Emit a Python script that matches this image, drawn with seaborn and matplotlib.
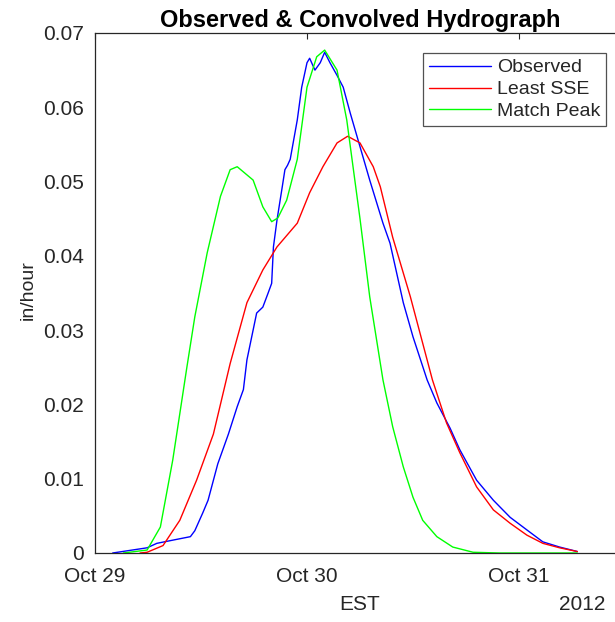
import matplotlib
matplotlib.use("Agg")
from matplotlib import pyplot as plt
import numpy as np
import pandas as pd
import seaborn as sns

# hours after Oct 29 2012 00:00 EST, values in in/hour
obs_hours = [2.0, 5.9, 7.0, 9.1, 10.8, 11.3, 12.2, 12.8, 13.9, 15.1, 16.1, 16.8,
             17.2, 18.3, 19.0, 19.6, 20.0, 20.2, 20.6, 21.2, 21.5, 21.8, 22.1,
             22.9, 23.4, 24.0, 24.3, 24.9, 25.5, 26.0, 26.6, 27.4, 28.1, 28.9,
             30.0, 31.1, 32.6, 33.4, 34.9, 36.0, 37.6, 38.7, 40.2, 41.3, 43.2,
             45.1, 47.0, 48.9, 50.7, 52.6, 54.6]
obs_vals = [0.0, 0.0007, 0.0013, 0.0018, 0.0022, 0.003, 0.0054, 0.0071, 0.012,
            0.016, 0.0197, 0.022, 0.026, 0.0323, 0.0331, 0.035, 0.0363, 0.0412,
            0.0448, 0.0493, 0.0516, 0.0522, 0.053, 0.0583, 0.0627, 0.066,
            0.0666, 0.065, 0.066, 0.0674, 0.066, 0.0643, 0.0627, 0.0592, 0.0547,
            0.0502, 0.0444, 0.0417, 0.0337, 0.0291, 0.0233, 0.0202, 0.0168,
            0.0139, 0.0098, 0.0071, 0.0048, 0.0031, 0.0015, 0.0008, 0.0002]

sse_hours = [5.1, 5.9, 7.7, 9.6, 11.5, 13.4, 15.3, 17.2, 19.0, 20.6, 22.9, 24.3,
             25.8, 27.4, 28.6, 30.0, 31.5, 32.3, 33.7, 35.7, 38.2, 39.8, 41.3,
             43.2, 45.1, 47.0, 48.9, 50.7, 52.6, 54.6]
sse_vals = [0.0, 0.0001, 0.001, 0.0044, 0.0098, 0.016, 0.0255, 0.0337, 0.0381,
            0.0412, 0.0444, 0.0485, 0.052, 0.0552, 0.0561, 0.0552, 0.052,
            0.0493, 0.0425, 0.0345, 0.0233, 0.0175, 0.0135, 0.0089, 0.0058,
            0.004, 0.0024, 0.0013, 0.0007, 0.0002]

peak_hours = [3.2, 5.9, 7.4, 8.8, 10.4, 11.3, 12.7, 14.2, 15.3, 16.1, 17.9,
              19.0, 20.0, 20.7, 21.7, 22.9, 24.0, 25.1, 26.0, 27.4, 28.5, 30.0,
              31.1, 32.6, 33.7, 34.9, 36.0, 37.1, 38.7, 40.5, 42.8, 45.8, 54.6]
peak_vals = [0.0, 0.0004, 0.0035, 0.0125, 0.025, 0.0318, 0.0404, 0.048, 0.0516,
             0.052, 0.0502, 0.0466, 0.0446, 0.0451, 0.0475, 0.053, 0.0627,
             0.0668, 0.0677, 0.065, 0.0583, 0.045, 0.0345, 0.0233, 0.017,
             0.0116, 0.0075, 0.0044, 0.0022, 0.0008, 0.0001, 0.0, 0.0]

series_names = ["Observed", "Least SSE", "Match Peak"]
series_colors = ["#0000ff", "#ff0000", "#00ff00"]
tick_dates = ["2012-10-29", "2012-10-30", "2012-10-31"]
tick_labels = ["Oct 29", "Oct 30", "Oct 31"]
y_ticks = [0, 0.01, 0.02, 0.03, 0.04, 0.05, 0.06, 0.07]

start = pd.Timestamp("2012-10-29")

sns.set_style("white")
plt.rcParams['font.family'] = ['Liberation Sans', 'DejaVu Sans']
fg = "#262626"

fig = plt.figure(figsize=(6.15, 6.22), dpi=100)
ax = fig.add_axes([95 / 615, 1 - 553 / 622, 530 / 615, 520 / 622])

for name, color, hrs, vals in zip(series_names, series_colors,
                                  [obs_hours, sse_hours, peak_hours],
                                  [obs_vals, sse_vals, peak_vals]):
    df = pd.DataFrame({
        "time": start + pd.to_timedelta(hrs, unit="h"),
        "value": vals,
    })
    sns.lineplot(data=df, x="time", y="value", color=color, linewidth=1.0,
                 label=name, estimator=None, ax=ax)

ax.set_xlim(start, start + pd.Timedelta(hours=60))
ax.set_ylim(0, 0.07)
ax.set_xticks(pd.to_datetime(tick_dates))
ax.set_xticklabels(tick_labels)
ax.set_yticks(y_ticks)
ax.set_yticklabels([f"{v:g}" for v in y_ticks])

for s in ax.spines.values():
    s.set_color(fg)
    s.set_linewidth(0.9)
ax.tick_params(direction="in", length=4, width=0.8, colors=fg,
               labelsize=15, top=True, right=False)
ax.tick_params(axis="y", pad=8)
ax.tick_params(axis="x", pad=10)

ax.set_xlabel("")
ax.set_ylabel("in/hour", fontsize=14, color=fg)
ax.yaxis.set_label_coords(-0.11, 0.506)
ax.set_title("Observed & Convolved Hydrograph", fontsize=17,
             fontweight="bold", color="black", pad=4)
fig.text(360 / 615, 1 - 605 / 622, "EST", ha="center", va="center",
         fontsize=15, color=fg)
fig.text(605 / 615, 1 - 604 / 622, "2012", ha="right", va="center",
         fontsize=15, color=fg)

leg = ax.legend(loc="upper left", bbox_to_anchor=(0.619, 0.9615),
                borderaxespad=0, fancybox=False, frameon=True,
                fontsize=14, handlelength=3.2, handletextpad=0.3,
                labelspacing=0.22, borderpad=0.3)
leg.get_frame().set_edgecolor(fg)
leg.get_frame().set_linewidth(0.9)
for t in leg.get_texts():
    t.set_color(fg)

fig.savefig("out.png", dpi=100, facecolor="white")
